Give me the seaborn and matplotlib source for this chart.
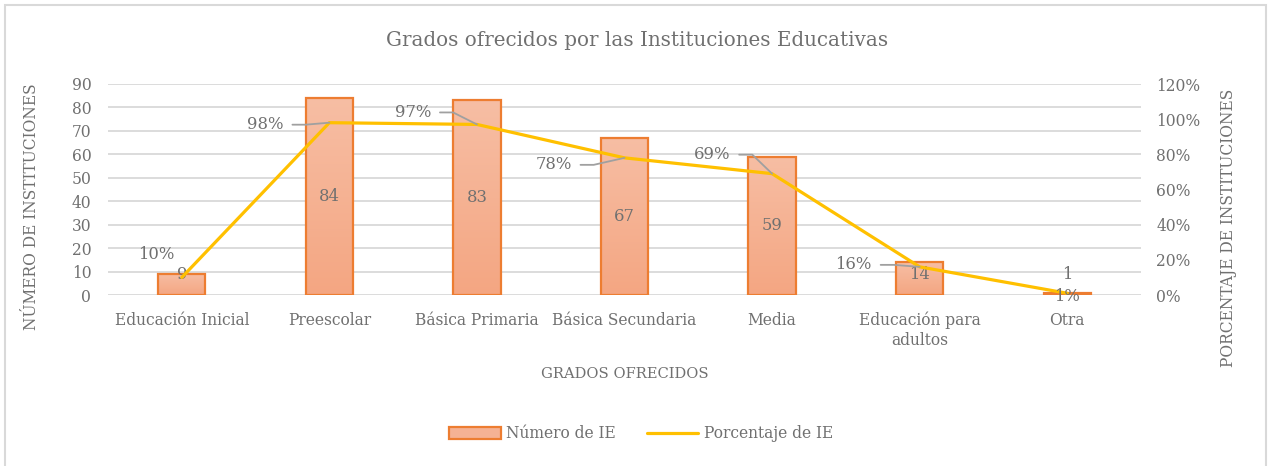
import matplotlib
matplotlib.use("Agg")
import matplotlib.pyplot as plt
import seaborn as sns
import numpy as np
import pandas as pd
from matplotlib.patches import Patch, Rectangle
from matplotlib.lines import Line2D
from matplotlib.ticker import FuncFormatter
from matplotlib.colors import LinearSegmentedColormap

categorias = ["Educación Inicial", "Preescolar", "Básica Primaria", "Básica Secundaria",
              "Media", "Educación para\nadultos", "Otra"]
numero_ie = [9, 84, 83, 67, 59, 14, 1]
porcentaje_ie = [0.10, 0.98, 0.97, 0.78, 0.69, 0.16, 0.01]

titulo = "Grados ofrecidos por las Instituciones Educativas"
ylabel_izq = "NÚMERO DE INSTITUCIONES"
ylabel_der = "PORCENTAJE DE INSTITUCIONES"
xlabel = "GRADOS OFRECIDOS"
leyenda = ["Número de IE", "Porcentaje de IE"]

sns.set_theme(style="white")
plt.rcParams["font.family"] = ["DejaVu Serif", "Liberation Serif"]

TXT = "#707070"
GRID = "#d9d9d9"
BAR_FACE = "#f5b294"
BAR_TOP = "#f7bea4"
BAR_BOT = "#f4a682"
BAR_EDGE = "#ed7d31"
LINE = "#ffc000"
FS = 11.2

fig = plt.figure(figsize=(12.68, 4.66), dpi=100)
ax = fig.add_axes([108 / 1268, 1 - 295 / 466, (1141 - 108) / 1268, (295 - 84) / 466])

df = pd.DataFrame({"cat": categorias, "n": numero_ie})
sns.barplot(data=df, x="cat", y="n", ax=ax, color=BAR_FACE, width=0.32,
            edgecolor=BAR_EDGE, linewidth=1.6, saturation=1)
ax.set_ylim(0, 90)
ax.set_yticks(np.arange(0, 91, 10))
ax.set_xlim(-0.5, len(categorias) - 0.5)

# vertical gradient fill inside each bar
cmap = LinearSegmentedColormap.from_list("barg", [BAR_BOT, BAR_TOP])
grad = np.linspace(0, 1, 256).reshape(-1, 1)
for bar in list(ax.patches):
    x0, y0 = bar.get_x(), bar.get_y()
    w, h = bar.get_width(), bar.get_height()
    bar.set_facecolor("none")
    bar.set_zorder(3)
    im = ax.imshow(grad, cmap=cmap, origin="lower", aspect="auto",
                   extent=(x0, x0 + w, y0, y0 + h), zorder=2)
    im.set_clip_path(bar)
ax.set_xlim(-0.5, len(categorias) - 0.5)
ax.set_ylim(0, 90)
ax.set_aspect("auto")

ax.grid(axis="y", color=GRID, linewidth=1.3)
ax.set_axisbelow(True)
for s in ax.spines.values():
    s.set_visible(False)
ax.tick_params(axis="both", length=0, colors=TXT, labelsize=FS)
ax.tick_params(axis="x", pad=12)
ax.tick_params(axis="y", pad=12)
ax.set_xlabel(xlabel, color=TXT, fontsize=FS * 0.95, labelpad=13)
ax.set_ylabel(ylabel_izq, color=TXT, fontsize=FS)
ax.yaxis.set_label_coords(-0.0658, 0.417)

for i, v in enumerate(numero_ie):
    ax.text(i, max(v / 2, 8.6), str(v), ha="center", va="center", color=TXT,
            fontsize=FS * 1.05, zorder=5)

ax2 = ax.twinx()
sns.lineplot(x=np.arange(len(categorias)), y=porcentaje_ie, ax=ax2, color=LINE,
             linewidth=2.3, legend=False)
ax2.set_ylim(0, 1.2)
ax2.set_yticks(np.arange(0, 1.21, 0.2))
ax2.yaxis.set_major_formatter(FuncFormatter(lambda v, p: f"{v*100:.0f}%"))
for s in ax2.spines.values():
    s.set_visible(False)
ax2.tick_params(axis="y", length=0, colors=TXT, labelsize=FS, pad=11)
ax2.set_ylabel(ylabel_der, color=TXT, fontsize=FS)
ax2.yaxis.set_label_coords(1.0763, 0.318)
ax2.grid(False)

offsets = [(-26, 23), (-64, -2), (-64, 12), (-71, -7), (-60, 19), (-66, 2), (0, -3)]
leaders = [False, True, True, True, True, True, False]
for i, (p, off, ld) in enumerate(zip(porcentaje_ie, offsets, leaders)):
    kw = {}
    if ld:
        kw["arrowprops"] = dict(arrowstyle="-", color="#a0a0a0", lw=1.3,
                                relpos=(1, 0.5), shrinkA=4, shrinkB=0,
                                connectionstyle="arc,angleA=0,armA=22,angleB=0,armB=0,rad=0")
    ax2.annotate(f"{p*100:.0f}%", xy=(i, p), xytext=off, textcoords="offset pixels",
                 ha="center", va="center", color=TXT, fontsize=FS * 1.05, **kw)

fig.text(637 / 1268, 1 - 40 / 466, titulo, ha="center", va="center", color=TXT, fontsize=FS * 1.28)

handles = [Patch(facecolor=BAR_FACE, edgecolor=BAR_EDGE, linewidth=1.6),
           Line2D([0], [0], color=LINE, linewidth=2.3)]
fig.legend(handles, leyenda, loc="center", bbox_to_anchor=(641 / 1268, 1 - 434 / 466),
           ncol=2, frameon=False, fontsize=FS, labelcolor=TXT, handlelength=3.3,
           handleheight=0.75, handletextpad=0.35, columnspacing=2.0)

fig.patches.append(Rectangle((5 / 1268, -0.01), 1261 / 1268, 1 - 5 / 466 + 0.01,
                             transform=fig.transFigure, fill=False, edgecolor=GRID,
                             linewidth=1.5))

fig.savefig("out.png", dpi=100)
